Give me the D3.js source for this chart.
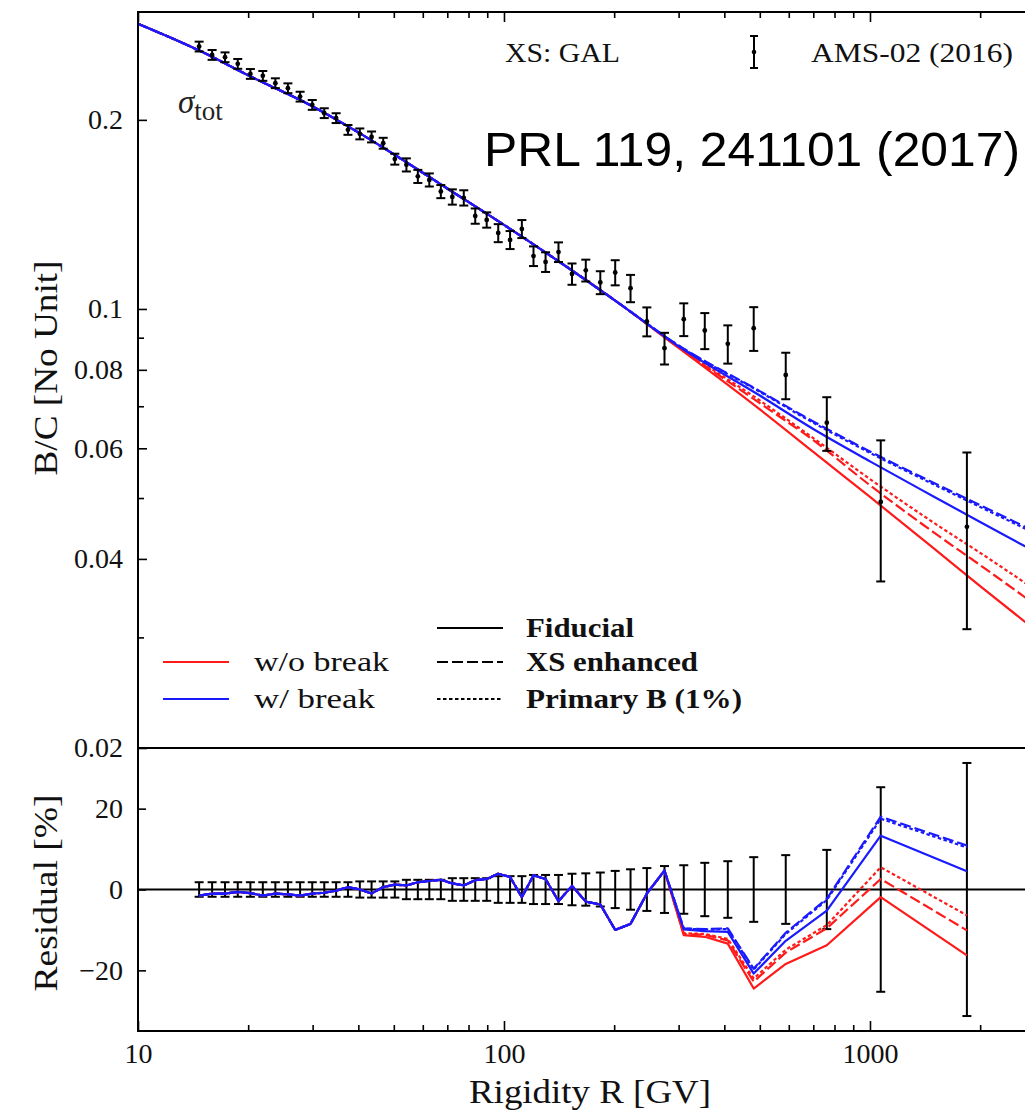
<!DOCTYPE html>
<html><head><meta charset="utf-8">
<script src="https://cdn.jsdelivr.net/npm/d3@7"></script>
<style>html,body{margin:0;padding:0;background:#fff;} svg{display:block;}</style>
</head><body><svg id="c" width="1025" height="1114"></svg>
<script>
// ---------------- DATA ----------------
// AMS-02 (2016) B/C data points (rigidity in GV)
const dataR = [14.69,15.94,17.29,18.73,20.28,21.93,23.73,25.68,27.73,29.93,32.28,34.78,37.47,40.37,43.47,46.77,50.32,54.12,58.16,62.51,67.21,72.25,77.65,83.45,89.69,96.44,103.9,111.9,120.4,129.9,140.9,153.4,167.3,183.3,201.3,221.7,245.7,274.5,309.9,353.7,408.8,481.2,588.6,762.1,1070,1840];
const dataBC = [0.2617,0.2538,0.2516,0.2456,0.2367,0.2350,0.2288,0.2246,0.2178,0.2113,0.2050,0.2013,0.1928,0.1900,0.1879,0.1836,0.1732,0.1696,0.1626,0.1605,0.1538,0.1508,0.1503,0.1406,0.1386,0.1321,0.1288,0.1341,0.1214,0.1188,0.1232,0.1137,0.1152,0.1102,0.1143,0.1079,0.0955,0.0866,0.0963,0.0924,0.0880,0.0932,0.0785,0.0659,0.0493,0.0450];
const dataErrPct = [1.8,1.8,1.8,1.8,1.8,1.8,1.8,1.8,1.8,1.8,1.8,1.8,1.8,2.0,2.0,2.0,2.0,2.4,2.4,2.4,2.4,2.8,2.8,2.8,2.8,3.3,3.3,3.3,3.6,3.6,3.6,3.9,4.0,4.2,4.6,5.0,5.3,5.8,6.0,6.6,7.0,8.0,8.5,9.8,25.3,31.3];

// Model curves (top panel)
const modelR = [10,15,20,30,40,50,70,100,150,200,300,500,700,1000,1500,2000,3000];
const modelCommon = [0.2844,0.2564,0.2355,0.2101,0.1910,0.1763,0.1555,0.1361,0.1162,0.1034];
const tailRedFid  = [0.0867,0.0692,0.0592,0.0502,0.0415,0.0362,0.0300];
const tailRedXS   = [0.0869,0.0708,0.0618,0.0524,0.0440,0.0391,0.0330];
const tailRedPri  = [0.0870,0.0715,0.0623,0.0536,0.0456,0.0409,0.0349];
const tailBlueFid = [0.0872,0.0728,0.0644,0.0572,0.0502,0.0458,0.0403];
const tailBlueXS  = [0.0875,0.0740,0.0662,0.0593,0.0528,0.0487,0.0435];
const tailBluePri = [0.0874,0.0738,0.0659,0.0590,0.0525,0.0484,0.0432];

// Residuals [%] at data rigidities (bottom panel)
const resCommon = [-1.5,-1.0,-1.0,-0.6,-0.9,-1.5,-1.0,-1.2,-1.5,-1.0,-0.8,-0.3,0.6,0.0,-1.0,0.6,1.2,1.0,1.8,2.1,2.4,1.5,1.0,2.3,2.6,3.9,3.1,-1.9,3.5,2.6,-2.9,0.9,-3.0,-3.7,-10.0,-8.5,-1.0,4.7];
const resTailRedFid  = [-11.3,-11.7,-13.4,-24.5,-18.4,-13.8,-1.9,-16.3];
const resTailRedXS   = [-11.0,-11.2,-12.6,-22.8,-15.6,-9.6,2.6,-10.1];
const resTailRedPri  = [-10.8,-11.0,-12.2,-22.0,-14.9,-8.8,5.5,-6.4];
const resTailBlueFid = [-9.9,-10.3,-10.5,-20.8,-12.7,-5.2,13.3,4.5];
const resTailBlueXS  = [-9.6,-9.8,-9.6,-19.6,-10.7,-2.3,18.0,10.9];
const resTailBluePri = [-9.7,-9.9,-9.8,-19.8,-11.0,-2.6,17.5,10.4];

// Tick values / labels
const xMajorTicks = [10,100,1000];
const xMajorLabels = ["10","100","1000"];
const xMinorTicks = [20,30,40,50,60,70,80,90,200,300,400,500,600,700,800,900,2000,3000];
const yMajorTicks = [0.02,0.04,0.06,0.08,0.1,0.2];
const yMajorLabels = ["0.02","0.04","0.06","0.08","0.1","0.2"];
const yMinorTicks = [0.03,0.05,0.07,0.09];
const rTicks = [-20,0,20];
const rLabels = ["\u221220","0","20"];

// ---------------- LAYOUT ----------------
const svg = d3.select("#c");
const X0 = 138, X1 = 1044.6, T0 = 12, T1 = 748, B1 = 1031;
const x = d3.scaleLog().domain([10,3000]).range([X0,X1]);
const y = d3.scaleLog().domain([0.02,0.297]).range([T1,T0]);
const yr = d3.scaleLinear().domain([-35,35]).range([B1,T1]);
const SERIF = "'Liberation Serif','DejaVu Serif',serif";
const RED = "#ff1a1a", BLUE = "#1a1aff";

const defs = svg.append("defs");
defs.append("clipPath").attr("id","clipTop").append("rect").attr("x",X0).attr("y",T0).attr("width",X1-X0).attr("height",T1-T0);
defs.append("clipPath").attr("id","clipBot").append("rect").attr("x",X0).attr("y",T1).attr("width",X1-X0).attr("height",B1-T1);

const series = [
  {tail: tailRedFid,  res: resTailRedFid,  color: RED,  dash: null},
  {tail: tailRedXS,   res: resTailRedXS,   color: RED,  dash: "11,4"},
  {tail: tailRedPri,  res: resTailRedPri,  color: RED,  dash: "3.5,2.5"},
  {tail: tailBlueFid, res: resTailBlueFid, color: BLUE, dash: null},
  {tail: tailBlueXS,  res: resTailBlueXS,  color: BLUE, dash: "11,4"},
  {tail: tailBluePri, res: resTailBluePri, color: BLUE, dash: "3.5,2.5"}
];

// ---------------- TOP PANEL ----------------
const gTop = svg.append("g").attr("clip-path","url(#clipTop)");
const lineTop = d3.line().x(d=>x(d[0])).y(d=>y(d[1])).curve(d3.curveMonotoneX);
series.forEach(s=>{
  const vals = modelCommon.concat(s.tail);
  const pts = modelR.map((r,i)=>[r, vals[i]]);
  gTop.append("path").attr("d", lineTop(pts)).attr("fill","none")
    .attr("stroke", s.color).attr("stroke-width", 2.2)
    .attr("stroke-dasharray", s.dash);
});

// data points with error bars
const cap = 4.5;
dataR.forEach((r,i)=>{
  const v = dataBC[i], e = dataErrPct[i]/100;
  const px = x(r), yHi = y(v*(1+e)), yLo = y(v*(1-e));
  gTop.append("line").attr("x1",px).attr("x2",px).attr("y1",yHi).attr("y2",yLo).attr("stroke","#000").attr("stroke-width",2);
  gTop.append("line").attr("x1",px-cap).attr("x2",px+cap).attr("y1",yHi).attr("y2",yHi).attr("stroke","#000").attr("stroke-width",2);
  gTop.append("line").attr("x1",px-cap).attr("x2",px+cap).attr("y1",yLo).attr("y2",yLo).attr("stroke","#000").attr("stroke-width",2);
  gTop.append("circle").attr("cx",px).attr("cy",y(v)).attr("r",2.4).attr("fill","#000");
});

// ---------------- BOTTOM PANEL ----------------
const gBot = svg.append("g").attr("clip-path","url(#clipBot)");
gBot.append("line").attr("x1",X0).attr("x2",X1).attr("y1",yr(0)).attr("y2",yr(0)).attr("stroke","#000").attr("stroke-width",2);
dataR.forEach((r,i)=>{
  const e = dataErrPct[i];
  const px = x(r), yHi = yr(e), yLo = yr(-e);
  gBot.append("line").attr("x1",px).attr("x2",px).attr("y1",yHi).attr("y2",yLo).attr("stroke","#000").attr("stroke-width",2);
  gBot.append("line").attr("x1",px-cap).attr("x2",px+cap).attr("y1",yHi).attr("y2",yHi).attr("stroke","#000").attr("stroke-width",2);
  gBot.append("line").attr("x1",px-cap).attr("x2",px+cap).attr("y1",yLo).attr("y2",yLo).attr("stroke","#000").attr("stroke-width",2);
});
const lineRes = d3.line().x(d=>x(d[0])).y(d=>yr(d[1]));
series.forEach(s=>{
  const vals = resCommon.concat(s.res);
  const pts = dataR.map((r,i)=>[r, vals[i]]);
  gBot.append("path").attr("d", lineRes(pts)).attr("fill","none")
    .attr("stroke", s.color).attr("stroke-width", 2.2)
    .attr("stroke-dasharray", s.dash).attr("stroke-linejoin","round");
});

// ---------------- AXES ----------------
function styleAxis(g){
  g.select(".domain").remove();
  g.selectAll(".tick line").attr("stroke","#000").attr("stroke-width",1.6);
  g.attr("font-family", SERIF).attr("font-size", 28).attr("fill","#111");
  g.selectAll(".tick text").attr("fill","#111");
}
// bottom x axis (major with labels, minor)
svg.append("g").attr("transform",`translate(0,${B1})`)
  .call(d3.axisBottom(x).tickValues(xMajorTicks).tickSize(-10).tickPadding(12).tickFormat((d,i)=>xMajorLabels[i]))
  .call(styleAxis);
svg.append("g").attr("transform",`translate(0,${B1})`)
  .call(d3.axisBottom(x).tickValues(xMinorTicks).tickSize(-6).tickFormat(""))
  .call(styleAxis);
// top x ticks (inward)
svg.append("g").attr("transform",`translate(0,${T0})`)
  .call(d3.axisTop(x).tickValues(xMajorTicks).tickSize(-10).tickFormat(""))
  .call(styleAxis);
svg.append("g").attr("transform",`translate(0,${T0})`)
  .call(d3.axisTop(x).tickValues(xMinorTicks).tickSize(-6).tickFormat(""))
  .call(styleAxis);
// left y axis top panel
svg.append("g").attr("transform",`translate(${X0},0)`)
  .call(d3.axisLeft(y).tickValues(yMajorTicks).tickSize(-9).tickPadding(15).tickFormat((d,i)=>yMajorLabels[i]))
  .call(styleAxis);
svg.append("g").attr("transform",`translate(${X0},0)`)
  .call(d3.axisLeft(y).tickValues(yMinorTicks).tickSize(-6).tickFormat(""))
  .call(styleAxis);
// left y axis residual panel
svg.append("g").attr("transform",`translate(${X0},0)`)
  .call(d3.axisLeft(yr).tickValues(rTicks).tickSize(-8).tickPadding(15).tickFormat((d,i)=>rLabels[i]))
  .call(styleAxis);

// frames
svg.append("rect").attr("x",X0).attr("y",T0).attr("width",X1-X0).attr("height",T1-T0).attr("fill","none").attr("stroke","#000").attr("stroke-width",2);
svg.append("rect").attr("x",X0).attr("y",T1).attr("width",X1-X0).attr("height",B1-T1).attr("fill","none").attr("stroke","#000").attr("stroke-width",2);

// ---------------- TEXTS ----------------
svg.append("text").attr("transform","translate(57,368) rotate(-90)").attr("text-anchor","middle")
  .attr("font-family",SERIF).attr("font-size",33).attr("fill","#111")
  .attr("textLength",215).attr("lengthAdjust","spacingAndGlyphs").text("B/C [No Unit]");
svg.append("text").attr("transform","translate(57,893) rotate(-90)").attr("text-anchor","middle")
  .attr("font-family",SERIF).attr("font-size",33).attr("fill","#111")
  .attr("textLength",197).attr("lengthAdjust","spacingAndGlyphs").text("Residual [%]");
svg.append("text").attr("x",590).attr("y",1103).attr("text-anchor","middle")
  .attr("font-family",SERIF).attr("font-size",33).attr("fill","#111")
  .attr("textLength",242).attr("lengthAdjust","spacingAndGlyphs").text("Rigidity R [GV]");

// sigma_tot label
const sig = svg.append("text").attr("x",178).attr("y",113).attr("font-family",SERIF).attr("fill","#222");
sig.append("tspan").attr("font-style","italic").attr("font-size",33).text("\u03C3");
sig.append("tspan").attr("font-size",27).attr("dy",7).text("tot");

// top legend: XS: GAL and AMS-02 symbol
svg.append("text").attr("x",505).attr("y",62).attr("font-family",SERIF).attr("font-size",27).attr("fill","#111")
  .attr("textLength",115).attr("lengthAdjust","spacingAndGlyphs").text("XS: GAL");
const lgX = 754;
svg.append("line").attr("x1",lgX).attr("x2",lgX).attr("y1",36).attr("y2",68).attr("stroke","#000").attr("stroke-width",2);
svg.append("line").attr("x1",lgX-4).attr("x2",lgX+4).attr("y1",36).attr("y2",36).attr("stroke","#000").attr("stroke-width",2);
svg.append("line").attr("x1",lgX-4).attr("x2",lgX+4).attr("y1",68).attr("y2",68).attr("stroke","#000").attr("stroke-width",2);
svg.append("circle").attr("cx",lgX).attr("cy",52).attr("r",2.3).attr("fill","#000");
svg.append("text").attr("x",811).attr("y",62).attr("font-family",SERIF).attr("font-size",27).attr("fill","#111")
  .attr("textLength",202).attr("lengthAdjust","spacingAndGlyphs").text("AMS-02 (2016)");

// PRL annotation
svg.append("text").attr("x",484).attr("y",166).attr("font-family","'Liberation Sans',Arial,sans-serif").attr("font-size",49).attr("fill","#000")
  .attr("textLength",536).attr("lengthAdjust","spacingAndGlyphs").text("PRL 119, 241101 (2017)");

// bottom legend
const legColor = [
  {label:"w/o break", color:RED, y:662, w:135},
  {label:"w/ break", color:BLUE, y:699, w:121}
];
legColor.forEach(l=>{
  svg.append("line").attr("x1",163).attr("x2",229).attr("y1",l.y).attr("y2",l.y).attr("stroke",l.color).attr("stroke-width",2.2);
  svg.append("text").attr("x",254).attr("y",l.y+9).attr("font-family",SERIF).attr("font-size",28).attr("fill","#111")
    .attr("textLength",l.w).attr("lengthAdjust","spacingAndGlyphs").text(l.label);
});
const legStyle = [
  {label:"Fiducial", dash:null, y:628, w:108},
  {label:"XS enhanced", dash:"11,4", y:662, w:172},
  {label:"Primary B (1%)", dash:"3.5,2.5", y:699, w:216}
];
legStyle.forEach(l=>{
  svg.append("line").attr("x1",437).attr("x2",503).attr("y1",l.y).attr("y2",l.y).attr("stroke","#000").attr("stroke-width",2).attr("stroke-dasharray",l.dash);
  svg.append("text").attr("x",526).attr("y",l.y+9).attr("font-family",SERIF).attr("font-weight","bold").attr("font-size",28).attr("fill","#111")
    .attr("textLength",l.w).attr("lengthAdjust","spacingAndGlyphs").text(l.label);
});
</script>
</body></html>
